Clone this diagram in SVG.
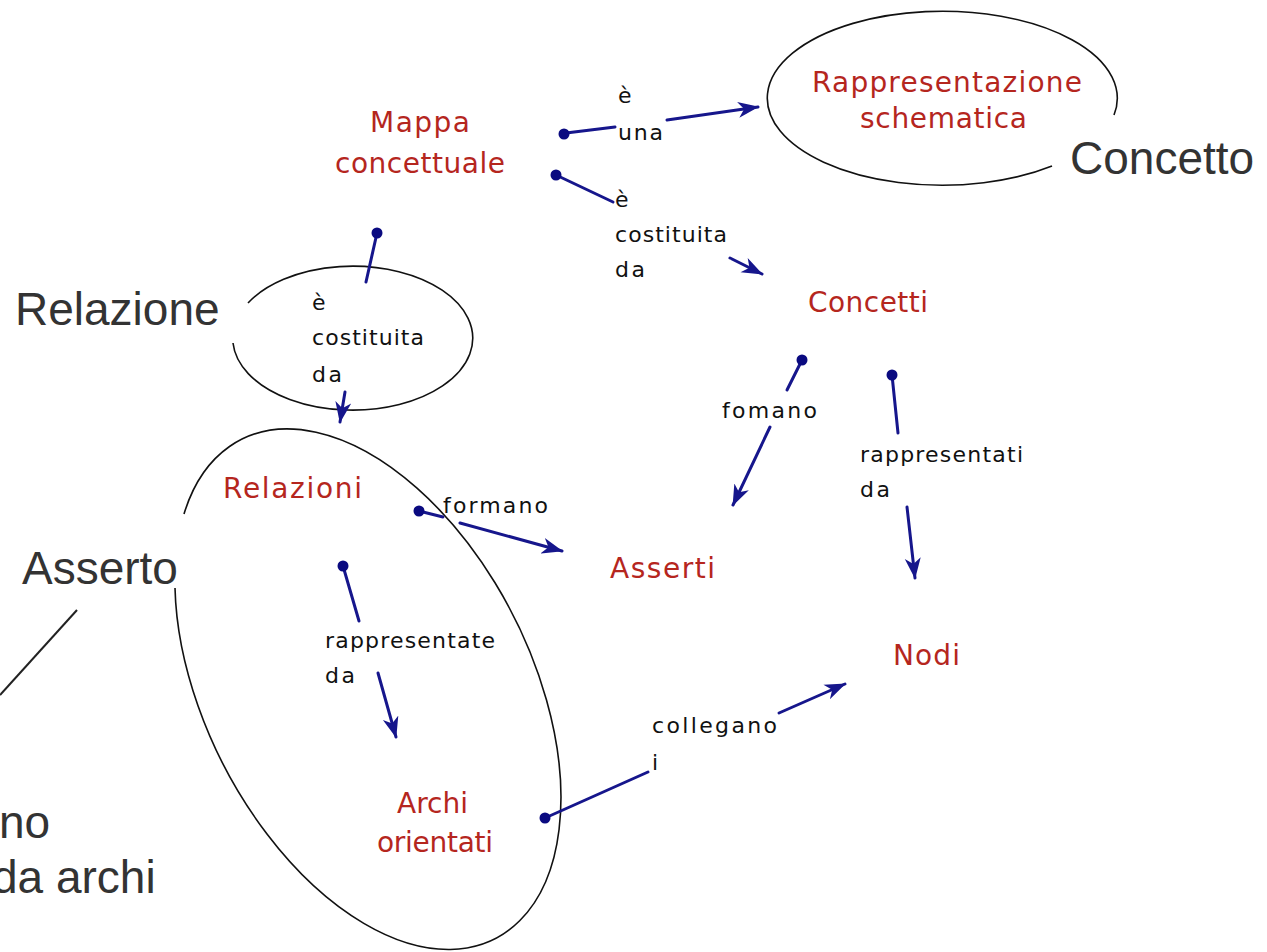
<svg xmlns="http://www.w3.org/2000/svg" width="1267" height="952" viewBox="0 0 1267 952">
<style>
.node{font-family:"DejaVu Sans","Liberation Sans",sans-serif;font-size:28px;fill:#b5261e}
.lbl{font-family:"DejaVu Sans","Liberation Sans",sans-serif;font-size:22px;fill:#111}
.ann{font-family:"Liberation Sans",Arial,sans-serif;font-size:46px;fill:#333}
.ell{fill:none;stroke:#111;stroke-width:1.6}
.con{fill:none;stroke:#16168c;stroke-width:3;stroke-linecap:round}
.arr{marker-end:url(#ah)}
.dot{fill:#0a0a80}
</style>
<defs>
<marker id="ah" markerUnits="userSpaceOnUse" markerWidth="22" markerHeight="18" viewBox="0 0 22 18" refX="20" refY="9" orient="auto">
<path d="M0,1 L21,9 L0,17 L6,9 z" fill="#16168c"/>
</marker>
</defs>
<rect width="1267" height="952" fill="#fff"/>

<g id="annotations">
<path class="ell" d="M 1052 166 A 175 87 0 1 1 1114 115"/>
<path class="ell" d="M 248 303 A 120 72 0 1 1 233 343"/>
<path class="ell" d="M 184 514 A 163 280 -27 1 1 175 588"/>
<line x1="77" y1="610" x2="0" y2="695" stroke="#222" stroke-width="2"/>
<text class="ann" x="1070" y="174">Concetto</text>
<text class="ann" x="15" y="325">Relazione</text>
<text class="ann" x="22" y="584">Asserto</text>
<text class="ann" x="-1" y="838">no</text>
<text class="ann" x="-8" y="893">da archi</text>
</g>

<g id="connectors">
<line class="con" x1="566" y1="133" x2="615" y2="127"/>
<line class="con arr" x1="667" y1="120" x2="758" y2="107"/>
<circle class="dot" cx="564" cy="134" r="5.5"/>

<line class="con" x1="556" y1="175" x2="613" y2="202"/>
<line class="con arr" x1="730" y1="258" x2="762" y2="274"/>
<circle class="dot" cx="556" cy="175" r="5.5"/>

<line class="con" x1="377" y1="233" x2="366" y2="282"/>
<line class="con arr" x1="345" y1="392" x2="340" y2="422"/>
<circle class="dot" cx="377" cy="233" r="5.5"/>

<line class="con" x1="802" y1="360" x2="787" y2="390"/>
<line class="con arr" x1="770" y1="427" x2="733" y2="505"/>
<circle class="dot" cx="802" cy="360" r="5.5"/>

<line class="con" x1="892" y1="375" x2="898" y2="433"/>
<line class="con arr" x1="907" y1="507" x2="915" y2="578"/>
<circle class="dot" cx="892" cy="375" r="5.5"/>

<line class="con" x1="419" y1="511" x2="443" y2="517"/>
<line class="con arr" x1="460" y1="523" x2="562" y2="551"/>
<circle class="dot" cx="419" cy="511" r="5.5"/>

<line class="con" x1="343" y1="566" x2="359" y2="621"/>
<line class="con arr" x1="378" y1="673" x2="396" y2="737"/>
<circle class="dot" cx="343" cy="566" r="5.5"/>

<line class="con" x1="545" y1="818" x2="648" y2="772"/>
<line class="con arr" x1="779" y1="713" x2="845" y2="684"/>
<circle class="dot" cx="545" cy="818" r="5.5"/>
</g>

<g id="labels">
<text class="lbl" x="618" y="103">è</text>
<text class="lbl" x="618" y="140" textLength="45">una</text>
<text class="lbl" x="615" y="207">è</text>
<text class="lbl" x="615" y="242" textLength="112">costituita</text>
<text class="lbl" x="615" y="277" textLength="30">da</text>
<text class="lbl" x="312" y="310">è</text>
<text class="lbl" x="312" y="345" textLength="112">costituita</text>
<text class="lbl" x="312" y="382" textLength="30">da</text>
<text class="lbl" x="722" y="418" textLength="95">fomano</text>
<text class="lbl" x="860" y="462" textLength="163">rappresentati</text>
<text class="lbl" x="860" y="497" textLength="30">da</text>
<text class="lbl" x="443" y="513" textLength="105">formano</text>
<text class="lbl" x="325" y="648" textLength="170">rappresentate</text>
<text class="lbl" x="325" y="683" textLength="30">da</text>
<text class="lbl" x="652" y="733" textLength="125">collegano</text>
<text class="lbl" x="652" y="770">i</text>
</g>

<g id="node-mappa"><text class="node" x="370" y="132" textLength="100">Mappa</text><text class="node" x="335" y="173" textLength="170">concettuale</text></g>
<g id="node-rappresentazione"><text class="node" x="812" y="92" textLength="270">Rappresentazione</text><text class="node" x="860" y="128" textLength="167">schematica</text></g>
<g id="node-concetti"><text class="node" x="808" y="312" textLength="120">Concetti</text></g>
<g id="node-relazioni"><text class="node" x="223" y="498" textLength="139">Relazioni</text></g>
<g id="node-asserti"><text class="node" x="610" y="578" textLength="105">Asserti</text></g>
<g id="node-nodi"><text class="node" x="893" y="665" textLength="67">Nodi</text></g>
<g id="node-archi"><text class="node" x="397" y="813" textLength="71">Archi</text><text class="node" x="377" y="852" textLength="116">orientati</text></g>
</svg>
